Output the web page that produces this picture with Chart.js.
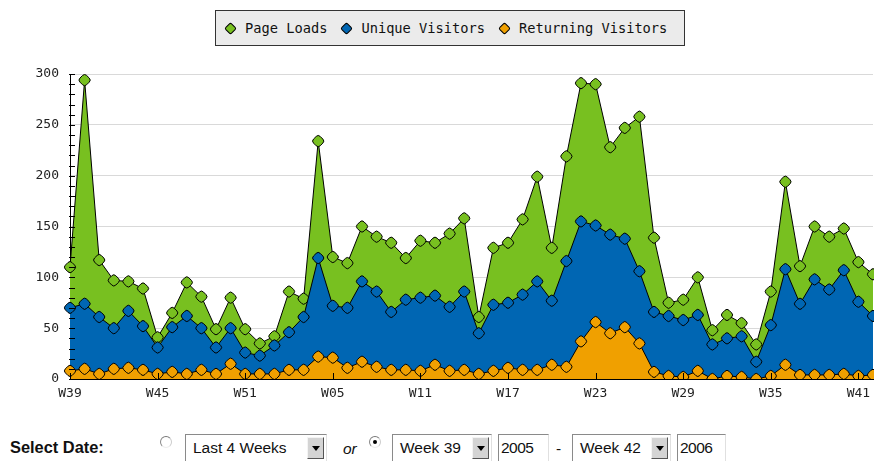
<!DOCTYPE html>
<html>
<head>
<meta charset="utf-8">
<script src="https://cdn.jsdelivr.net/npm/chart.js@4/dist/chart.umd.min.js"></script>
<style>
  html, body { margin: 0; padding: 0; background: #fff; overflow: hidden; }
  body { width: 874px; height: 461px; position: relative; }
  #chartBox { position: absolute; left: 0; top: 0; width: 874px; height: 409px; }
  #legend {
    position: absolute; left: 215px; top: 10px; width: 458px; height: 34px;
    background: #ebebeb; border: 1px solid #333;
    display: flex; align-items: center; padding-left: 10px; box-sizing: content-box;
    font-family: "DejaVu Sans Mono", monospace; font-size: 13.7px; color: #111;
  }
  #legend .mark {
    display: inline-block; width: 7px; height: 7px; border: 1px solid #000;
    border-radius: 2px; transform: rotate(45deg); margin-right: 10px;
  }
  #legend .item { display: flex; align-items: center; margin-right: 15px; }
  .form { position: absolute; font-family: "Liberation Sans", Arial, sans-serif; font-size: 15.5px; color: #111; }
  .label { left: 10px; top: 438px; font-weight: bold; font-size: 16.4px; }
  .radio {
    position: absolute; width: 10px; height: 10px; border-radius: 50%;
    border: 1px solid; border-color: #777 #ccc #eee #888; background: #fff;
  }
  .radio.on::after {
    content: ""; position: absolute; left: 3px; top: 3px; width: 4px; height: 4px;
    border-radius: 50%; background: #000;
  }
  .box {
    position: absolute; top: 434px; height: 30px; box-sizing: border-box;
    border: 1px solid; border-color: #8a8a8a #e0e0e0 #e0e0e0 #8a8a8a; background: #fff;
    padding: 4px 0 0 7px; font-family: "Liberation Sans", Arial, sans-serif; font-size: 15.5px; color: #111;
  }
  .box .btn {
    position: absolute; right: 2px; top: 2px; width: 17px; height: 22px; box-sizing: border-box;
    background: #d4d4d4; border: 1px solid; border-color: #f4f4f4 #555 #555 #f4f4f4;
  }
  .box .btn::after {
    content: ""; position: absolute; left: 4px; top: 8px;
    border-left: 4px solid transparent; border-right: 4px solid transparent; border-top: 5px solid #000;
  }
  .box.input { padding-left: 2px; letter-spacing: -0.5px; }
</style>
</head>
<body>
<div id="chartBox"><canvas id="chart" width="874" height="409"></canvas></div>
<div id="legend"></div>

<div class="form label">Select Date:</div>
<div class="radio" style="left:160px; top:436px;"></div>
<div class="box" style="left:185px; width:142px;">Last 4 Weeks<span class="btn"></span></div>
<div class="form" style="left:343px; top:440px; font-style:italic;">or</div>
<div class="radio on" style="left:369px; top:436px;"></div>
<div class="box" style="left:392px; width:100px;">Week 39<span class="btn"></span></div>
<div class="box input" style="left:498px; width:51px;">2005</div>
<div class="form" style="left:556px; top:440px;">-</div>
<div class="box" style="left:572px; width:99px;">Week 42<span class="btn"></span></div>
<div class="box input" style="left:677px; width:49px;">2006</div>

<script>
// Categories: weeks 39/2005 .. 42/2006
const weekLabels = [
  'W39', 'W40', 'W41', 'W42', 'W43', 'W44', 'W45', 'W46', 'W47', 'W48', 'W49', 'W50', 'W51', 'W52',
  'W01', 'W02', 'W03', 'W04', 'W05', 'W06', 'W07', 'W08', 'W09', 'W10', 'W11', 'W12', 'W13', 'W14',
  'W15', 'W16', 'W17', 'W18', 'W19', 'W20', 'W21', 'W22', 'W23', 'W24', 'W25', 'W26', 'W27', 'W28',
  'W29', 'W30', 'W31', 'W32', 'W33', 'W34', 'W35', 'W36', 'W37', 'W38', 'W39', 'W40', 'W41', 'W42'
];

// Series values
const pageLoads = [
  110, 294, 117, 97, 96, 89, 41, 65, 95, 81, 49, 80, 49, 35,
  42, 86, 79, 234, 120, 114, 150, 140, 134, 119, 136, 134, 143, 158,
  61, 129, 134, 157, 199, 129, 219, 291, 290, 228, 247, 258, 139, 75,
  78, 100, 48, 63, 55, 34, 86, 194, 111, 150, 140, 148, 115, 103
];
const uniqueVisitors = [
  70, 74, 61, 50, 67, 52, 31, 51, 62, 50, 31, 50, 26, 23,
  33, 46, 61, 119, 72, 70, 96, 86, 66, 78, 80, 82, 71, 86,
  45, 73, 75, 83, 96, 77, 116, 155, 151, 142, 138, 106, 66, 62,
  58, 63, 34, 40, 42, 17, 53, 108, 74, 98, 88, 107, 76, 62
];
const returningVisitors = [
  8, 10, 5, 10, 11, 9, 5, 7, 5, 9, 5, 15, 5, 5,
  5, 9, 9, 22, 21, 11, 17, 12, 9, 9, 8, 14, 8, 9,
  5, 8, 11, 9, 9, 14, 12, 37, 56, 45, 51, 35, 7, 3,
  2, 8, 0, 3, 2, 0, 3, 14, 4, 4, 4, 5, 3, 4
];

const seriesNames = ['Page Loads', 'Unique Visitors', 'Returning Visitors'];
const seriesColors = ['#78c020', '#0066b3', '#f0a000'];
const seriesData = [pageLoads, uniqueVisitors, returningVisitors];

// Y axis range
const yMax = 300;
const yMajorStep = 50;
const yMinorStep = 10;
const labelEvery = 6;

// Build the legend
const legendElement = document.getElementById('legend');
seriesNames.forEach((name, i) => {
  const item = document.createElement('span');
  item.className = 'item';
  item.innerHTML = `<span class="mark" style="background:${seriesColors[i]}"></span><span>${name}</span>`;
  legendElement.appendChild(item);
});

// Ticks that point into the plot area
const innerTicks = {
  id: 'innerTicks',
  afterDatasetsDraw(chart) {
    const ctx = chart.ctx;
    const x = chart.scales.x;
    const y = chart.scales.y;
    ctx.save();
    ctx.strokeStyle = '#000';
    ctx.lineWidth = 1;
    ctx.beginPath();
    for (let v = 0; v <= yMax; v += yMinorStep) {
      const py = Math.round(y.getPixelForValue(v)) + 0.5;
      ctx.moveTo(x.left - 1, py);
      ctx.lineTo(x.left + 5, py);
    }
    weekLabels.forEach((w, i) => {
      if (i % labelEvery !== 0) return;
      const px = Math.round(x.getPixelForValue(i)) + 0.5;
      ctx.moveTo(px, y.bottom);
      ctx.lineTo(px, y.bottom - 6);
    });
    ctx.stroke();
    ctx.restore();
  }
};

const datasets = seriesNames.map((name, i) => ({
  label: name,
  data: seriesData[i],
  order: 3 - i,
  fill: 'origin',
  backgroundColor: seriesColors[i],
  borderColor: '#000',
  borderWidth: 1,
  pointStyle: 'rectRounded',
  rotation: 45,
  pointRadius: 5.5,
  pointBorderWidth: 1,
  pointBorderColor: '#000',
  pointBackgroundColor: seriesColors[i]
}));

const tickFont = { family: 'DejaVu Sans Mono', size: 13 };

new Chart(document.getElementById('chart'), {
  type: 'line',
  data: { labels: weekLabels, datasets: datasets },
  options: {
    responsive: false,
    animation: false,
    events: [],
    layout: { autoPadding: false, padding: { top: 74, right: 1, left: 0, bottom: 0 } },
    plugins: { legend: { display: false }, tooltip: { enabled: false } },
    scales: {
      x: {
        offset: false,
        afterFit: (scale) => {
          scale.height = 30;
          scale.paddingLeft = 0;
          scale.paddingRight = 0;
        },
        border: { display: true, color: '#000', width: 1 },
        grid: { display: true, drawOnChartArea: false, drawTicks: false },
        ticks: {
          autoSkip: false,
          maxRotation: 0,
          padding: 7,
          color: '#222',
          font: tickFont,
          callback: (value, index) => (index % labelEvery === 0 ? weekLabels[index] : '')
        }
      },
      y: {
        min: 0,
        max: yMax,
        afterFit: (scale) => {
          scale.width = 70;
          scale.paddingTop = 0;
          scale.paddingBottom = 0;
        },
        border: { display: true, color: '#000', width: 1 },
        grid: {
          drawTicks: false,
          color: (c) => (c.tick && c.tick.value > 0 ? '#d9d9d9' : 'rgba(0,0,0,0)')
        },
        ticks: { stepSize: yMajorStep, padding: 11, color: '#222', font: tickFont }
      }
    }
  },
  plugins: [innerTicks]
});
</script>
</body>
</html>
